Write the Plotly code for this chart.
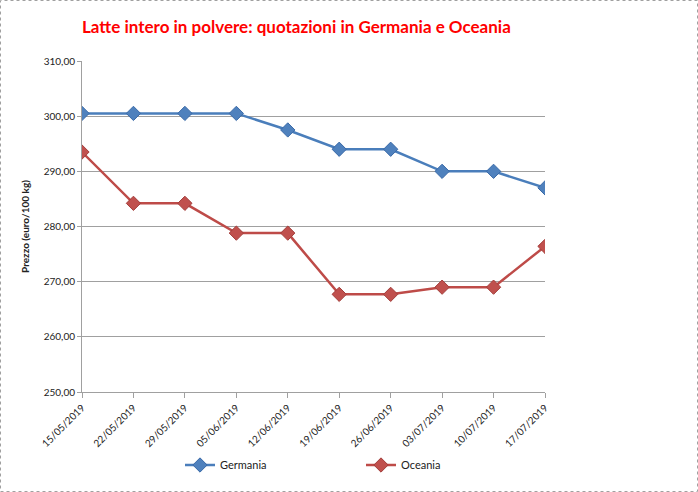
import plotly.graph_objects as go

dates = ["15/05/2019", "22/05/2019", "29/05/2019", "05/06/2019", "12/06/2019",
         "19/06/2019", "26/06/2019", "03/07/2019", "10/07/2019", "17/07/2019"]
germania = [300.5, 300.5, 300.5, 300.5, 297.5, 294.0, 294.0, 290.0, 290.0, 287.0]
oceania = [293.5, 284.2, 284.2, 278.8, 278.8, 267.7, 267.7, 269.0, 269.0, 276.4]

W, H = 698, 492
L, R, T, B = 82, 153, 61, 100
pw, ph = W - L - R, H - T - B

def px(p):
    return (p - L) / pw

def py(q):
    return (H - B - q) / ph

fig = go.Figure()
fig.add_trace(go.Scatter(
    x=dates, y=germania, name="Germania", mode="lines+markers",
    line=dict(color="#4A7EBB", width=2.5),
    marker=dict(symbol="diamond", size=11, color="#4F81BD",
                line=dict(color="#3A6AA8", width=1)),
))
fig.add_trace(go.Scatter(
    x=dates, y=oceania, name="Oceania", mode="lines+markers",
    line=dict(color="#BE4B48", width=2.5),
    marker=dict(symbol="diamond", size=11, color="#C0504D",
                line=dict(color="#A33E3B", width=1)),
))

fig.update_layout(
    width=W, height=H,
    margin=dict(l=L, r=R, t=T, b=B, pad=0),
    paper_bgcolor="white", plot_bgcolor="white",
    font=dict(family="Lato", size=10, color="#222"),
    separators=",.",
    showlegend=True,
    legend=dict(orientation="h", x=px(180), y=py(465), xanchor="left", yanchor="middle",
                entrywidth=136, entrywidthmode="pixels",
                font=dict(family="Lato", size=11, color="#222"),
                bgcolor="rgba(0,0,0,0)"),
    annotations=[dict(
        text="<b>Latte intero in polvere: quotazioni in Germania e Oceania</b>",
        x=px(80), y=py(26), xref="paper", yref="paper", xanchor="left", yanchor="middle",
        showarrow=False, font=dict(family="Lato", size=17, color="#FF0000"))],
    shapes=[dict(type="rect", xref="paper", yref="paper",
                 x0=px(0.5), x1=px(697.5), y0=py(491.5), y1=py(0.5),
                 line=dict(color="#A0A0A0", width=1, dash="dot"), layer="below")],
)

fig.update_xaxes(
    type="category", range=[0, 9], showgrid=False,
    showline=True, linecolor="#A0A0A0", linewidth=1,
    ticks="outside", ticklen=5, tickcolor="#A0A0A0",
    tickangle=-45, tickfont=dict(family="Lato", size=10, color="#222"),
)
fig.update_yaxes(
    range=[250, 310], dtick=10, tickformat=".2f",
    showgrid=True, gridcolor="#A0A0A0", gridwidth=1,
    showline=True, linecolor="#A0A0A0", linewidth=1,
    ticks="outside", ticklen=4, tickcolor="#A0A0A0",
    tickfont=dict(family="Lato", size=10, color="#222"),
    title=dict(text="<b>Prezzo (euro/100 kg)</b>", font=dict(family="Lato", size=10, color="#222"),
               standoff=12),
    zeroline=False,
)

fig.write_html("out.html", config={"displayModeBar": False},
               post_script="document.body.style.margin='0';")
